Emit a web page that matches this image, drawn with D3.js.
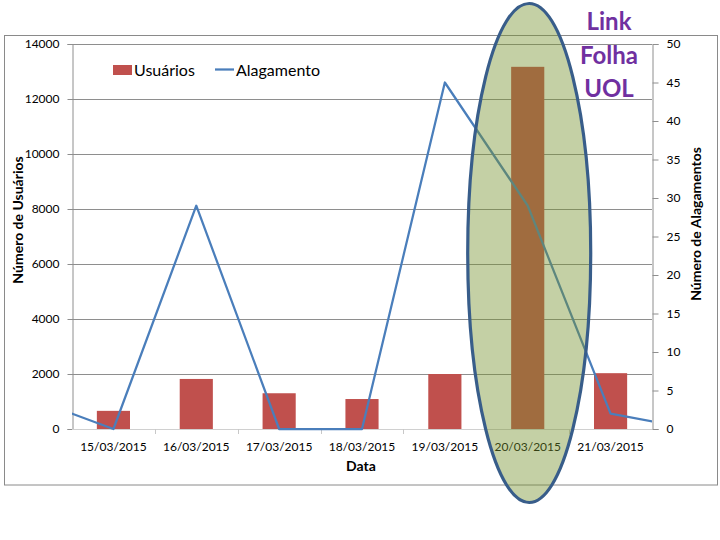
<!DOCTYPE html>
<html><head><meta charset="utf-8">
<script src="https://cdn.jsdelivr.net/npm/d3@7"></script>
<style>
html,body{margin:0;padding:0;background:#fff;}
svg{display:block;font-family:Lato,"Open Sans",sans-serif;}
</style></head>
<body>
<svg id="c" width="720" height="540"></svg>
<script>
// ---- data ----
const categories = ["15/03/2015","16/03/2015","17/03/2015","18/03/2015","19/03/2015","20/03/2015","21/03/2015"];
const usuarios = [660, 1820, 1300, 1090, 2000, 13170, 2030];
// line series extends one day before and after the shown categories (clipped at plot edges)
const alagDates = ["14/03/2015","15/03/2015","16/03/2015","17/03/2015","18/03/2015","19/03/2015","20/03/2015","21/03/2015","22/03/2015"];
const alagamento = [4, 0, 29, 0, 0, 45, 29, 2, 0];
const leftTicks = [0,2000,4000,6000,8000,10000,12000,14000];
const rightTicks = [0,5,10,15,20,25,30,35,40,45,50];
const highlightDate = "20/03/2015";
const noteLines = ["Link","Folha","UOL"];

const svg = d3.select("#c");
const L = 72, R = 652, T = 44, B = 429;

// frame
svg.append("rect").attr("x",4.5).attr("y",35.5).attr("width",713).attr("height",449.5)
  .attr("fill","none").attr("stroke","#8a8a8a").attr("stroke-width",1);

const x = d3.scaleBand().domain(categories).range([L,R]).padding(0);
const xi = d3.scaleLinear().domain([-0.5, categories.length-0.5]).range([L,R]);
const yL = d3.scaleLinear().domain([0,14000]).range([B,T]);
const yR = d3.scaleLinear().domain([0,50]).range([B,T]);

// gridlines
svg.append("g").selectAll("line").data(leftTicks.filter(d=>d>0)).join("line")
  .attr("x1",L).attr("x2",R).attr("y1",d=>Math.round(yL(d))+0.5).attr("y2",d=>Math.round(yL(d))+0.5)
  .attr("stroke","#8e8e8e").attr("stroke-width",1);

// left axis
const gl = svg.append("g").attr("transform",`translate(${L+0.5},0)`)
  .call(d3.axisLeft(yL).tickValues(leftTicks).tickSize(5).tickPadding(8).tickFormat(d3.format("d")));
gl.select(".domain").attr("stroke","#8e8e8e");
gl.selectAll(".tick line").attr("stroke","#8e8e8e");
gl.selectAll("text").attr("font-size",12).attr("fill","#000").attr("font-family","Lato");

// right axis
const gr = svg.append("g").attr("transform",`translate(${R+0.5},0)`)
  .call(d3.axisRight(yR).tickValues(rightTicks).tickSize(6).tickPadding(8));
gr.select(".domain").attr("stroke","#8e8e8e");
gr.selectAll(".tick line").attr("stroke","#8e8e8e");
gr.selectAll("text").attr("font-size",12).attr("fill","#000").attr("font-family","Lato");

// x axis
svg.append("line").attr("x1",L).attr("x2",R).attr("y1",B+0.5).attr("y2",B+0.5).attr("stroke","#d0d0d0");
svg.append("g").selectAll("line").data(d3.range(1,categories.length)).join("line")
  .attr("x1",d=>Math.round(xi(d-0.5))+0.5).attr("x2",d=>Math.round(xi(d-0.5))+0.5)
  .attr("y1",B).attr("y2",B+5).attr("stroke","#c8c8c8");
svg.append("g").selectAll("text").data(categories).join("text")
  .attr("x",d=>x(d)+x.bandwidth()/2).attr("y",B+22).attr("text-anchor","middle")
  .attr("font-size",12).attr("fill","#000").text(d=>d);

// bars
const bw = x.bandwidth()*0.4;
svg.append("g").selectAll("rect").data(categories).join("rect")
  .attr("x",d=>x(d)+x.bandwidth()/2-bw/2).attr("width",bw)
  .attr("y",(d,i)=>yL(usuarios[i])).attr("height",(d,i)=>B-yL(usuarios[i]))
  .attr("fill","#c0504d");

// line
svg.append("clipPath").attr("id","clip").append("rect").attr("x",L).attr("y",0).attr("width",R-L).attr("height",540);
const line = d3.line().x((d,i)=>xi(i-1)).y(d=>yR(d));
svg.append("path").datum(alagamento).attr("d",line).attr("clip-path","url(#clip)")
  .attr("fill","none").attr("stroke","#4a7ebb").attr("stroke-width",2.25).attr("stroke-linejoin","round");

// legend
svg.append("rect").attr("x",113).attr("y",65).attr("width",19).attr("height",10).attr("fill","#c0504d");
svg.append("text").attr("x",134).attr("y",76).attr("font-size",16).text("Usuários");
svg.append("line").attr("x1",215).attr("x2",234).attr("y1",69.5).attr("y2",69.5).attr("stroke","#4a7ebb").attr("stroke-width",2.25);
svg.append("text").attr("x",236).attr("y",76).attr("font-size",16).text("Alagamento");

// axis titles
svg.append("text").attr("transform","translate(23,220) rotate(-90)").attr("text-anchor","middle")
  .attr("font-size",14).attr("font-weight","bold").text("Número de Usuários");
svg.append("text").attr("transform","translate(701,224) rotate(-90)").attr("text-anchor","middle")
  .attr("font-size",14).attr("font-weight","bold").text("Número de Alagamentos");
svg.append("text").attr("x",361).attr("y",471).attr("text-anchor","middle")
  .attr("font-size",14).attr("font-weight","bold").text("Data");

// highlight ellipse
const hx = x(highlightDate)+x.bandwidth()/2;
svg.append("ellipse").attr("cx",hx+1.5).attr("cy",253).attr("rx",61.5).attr("ry",249.5)
  .attr("fill","rgb(118,146,46)").attr("fill-opacity",0.43)
  .attr("stroke","#385d8a").attr("stroke-width",3.2);

// note
svg.append("g").selectAll("text").data(noteLines).join("text")
  .attr("x",609).attr("y",(d,i)=>30+i*33.5).attr("text-anchor","middle")
  .attr("font-size",24).attr("font-weight","bold").attr("fill","#7030a0").text(d=>d);
</script>
</body></html>
